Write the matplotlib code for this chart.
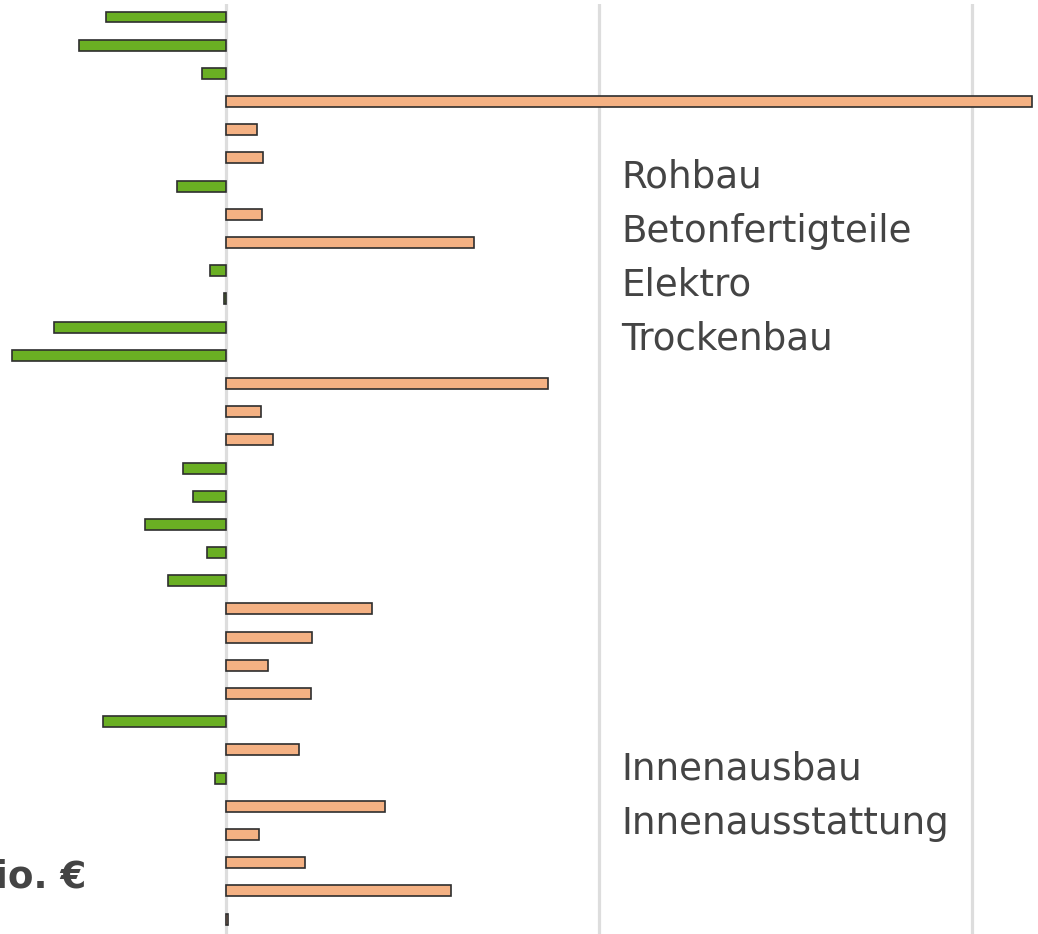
import numpy as np
import matplotlib
matplotlib.use("Agg")
import matplotlib.pyplot as plt

# change per row, Mio. EUR
values = [-32.3, -39.4, -6.4, 216.0, 8.2, 10.0, -13.1, 9.7, 66.5, -4.3, -0.5,
          -46.1, -57.5, 86.3, 9.3, 12.5, -11.4, -8.9, -21.6, -5.0, -15.6,
          39.1, 23.1, 11.3, 22.8, -33.0, 19.7, -2.9, 42.6, 8.8, 21.2, 60.3, 0.5]
grid_ticks = [0, 100, 200]
labels_top = ["Rohbau", "Betonfertigteile", "Elektro", "Trockenbau"]
labels_bottom = ["Innenausbau", "Innenausstattung"]
unit_label = "Mio. €"

W, H = 1038, 934
fig = plt.figure(figsize=(W / 100, H / 100), dpi=100)
ax = fig.add_axes([0, 0, 1, 1 - 4 / H])

vals = np.array(values)
y = np.arange(len(vals))
colors = np.where(vals < 0, "#6aaf23", "#f4b183")
ax.barh(y, vals, height=0.39, color=colors, edgecolor="#2e2e2e",
        linewidth=1.2, zorder=3)

for g in grid_ticks:
    ax.axvline(g, color="#dddddd", linewidth=2.3, zorder=1)

ax.set_xlim(-226 / 3.73, (W - 226) / 3.73)
ax.set_ylim((H - 17) / 28.19, -13 / 28.19)
ax.axis("off")

txt = "#444444"
for i, lab in enumerate(labels_top):
    fig.text(621 / W, 1 - (188 + 54 * i) / H, lab, fontsize=26.8,
             color=txt, va="baseline", ha="left")
for i, lab in enumerate(labels_bottom):
    fig.text(621 / W, 1 - (780 + 53.5 * i) / H, lab, fontsize=26.8,
             color=txt, va="baseline", ha="left")
fig.text(86 / W, 1 - 887 / H, unit_label, fontsize=26.8, fontweight="bold",
         color=txt, va="baseline", ha="right")

fig.savefig("out.png", dpi=100)
